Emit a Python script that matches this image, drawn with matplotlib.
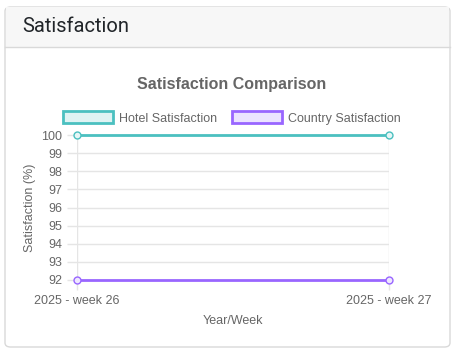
import matplotlib.pyplot as plt
from matplotlib.patches import FancyBboxPatch, Rectangle, Patch

plt.rcParams['font.family'] = ['Liberation Sans', 'DejaVu Sans']

weeks = ['2025 - week 26', '2025 - week 27']
hotel = [100, 100]
country = [92, 92]
yticks = [92, 93, 94, 95, 96, 97, 98, 99, 100]

W, H = 463, 354
fig = plt.figure(figsize=(W / 100, H / 100), dpi=100)

# card frame and header (kept behind the axes)
card = FancyBboxPatch((5 / W, 7 / H), 445 / W, 340 / H, boxstyle='round,pad=0,rounding_size=0.012',
                      transform=fig.transFigure, facecolor='white', edgecolor='#d9d9d9', lw=1, zorder=-3)
fig.patches.append(card)
head = Rectangle((6 / W, 1 - 47 / H), 443 / W, 40 / H, transform=fig.transFigure,
                 facecolor='#f7f7f7', edgecolor='none', zorder=-2)
fig.patches.append(head)
fig.lines.append(plt.Line2D([5 / W, 450 / W], [1 - 47 / H, 1 - 47 / H], transform=fig.transFigure,
                            color='#d9d9d9', lw=1, zorder=-1))
fig.text(22 / W, 1 - 27 / H, 'Satisfaction', fontsize=14.5, color='#212529',
         va='center', ha='left', family=['Roboto', 'DejaVu Sans'])

ax = fig.add_axes([77 / W, 1 - 280 / H, 312 / W, 145 / H])
ax.patch.set_alpha(0)
x = range(len(weeks))
teal = '#4bc0c0'
purple = '#9966ff'
ax.plot(x, hotel, color=teal, lw=2, marker='o', ms=5, mfc='#e6f6f6', mec=teal, clip_on=False, zorder=3)
ax.plot(x, country, color=purple, lw=2, marker='o', ms=5, mfc='#efe8ff', mec=purple, clip_on=False, zorder=3)

ax.set_xlim(0, 1)
ax.set_ylim(92, 100)
ax.set_yticks(yticks)
ax.set_xticks(list(x))
ax.set_xticklabels(weeks)
ax.tick_params(colors='#e5e5e5', labelcolor='#666666', labelsize=9, length=7, width=1)
ax.grid(True, color='#e5e5e5', lw=1)
for s in ax.spines.values():
    s.set_visible(False)
ax.set_xlabel('Year/Week', fontsize=9, color='#666666', labelpad=6)
ax.set_ylabel('Satisfaction (%)', fontsize=9, color='#666666', labelpad=4)

fig.text(232 / W, 1 - 84 / H, 'Satisfaction Comparison', fontsize=11.5, fontweight='bold',
         color='#666666', ha='center', va='center')

handles = [Patch(facecolor='#dff3f3', edgecolor=teal, lw=2),
           Patch(facecolor='#ebe3ff', edgecolor=purple, lw=2)]
fig.legend(handles, ['Hotel Satisfaction', 'Country Satisfaction'], loc='center',
           bbox_to_anchor=(232 / W, 1 - 118 / H), ncol=2, frameon=False, fontsize=9,
           labelcolor='#666666', handlelength=4.0, handleheight=1.1, handletextpad=0.5,
           columnspacing=1.2)

fig.savefig('out.png', dpi=100)
